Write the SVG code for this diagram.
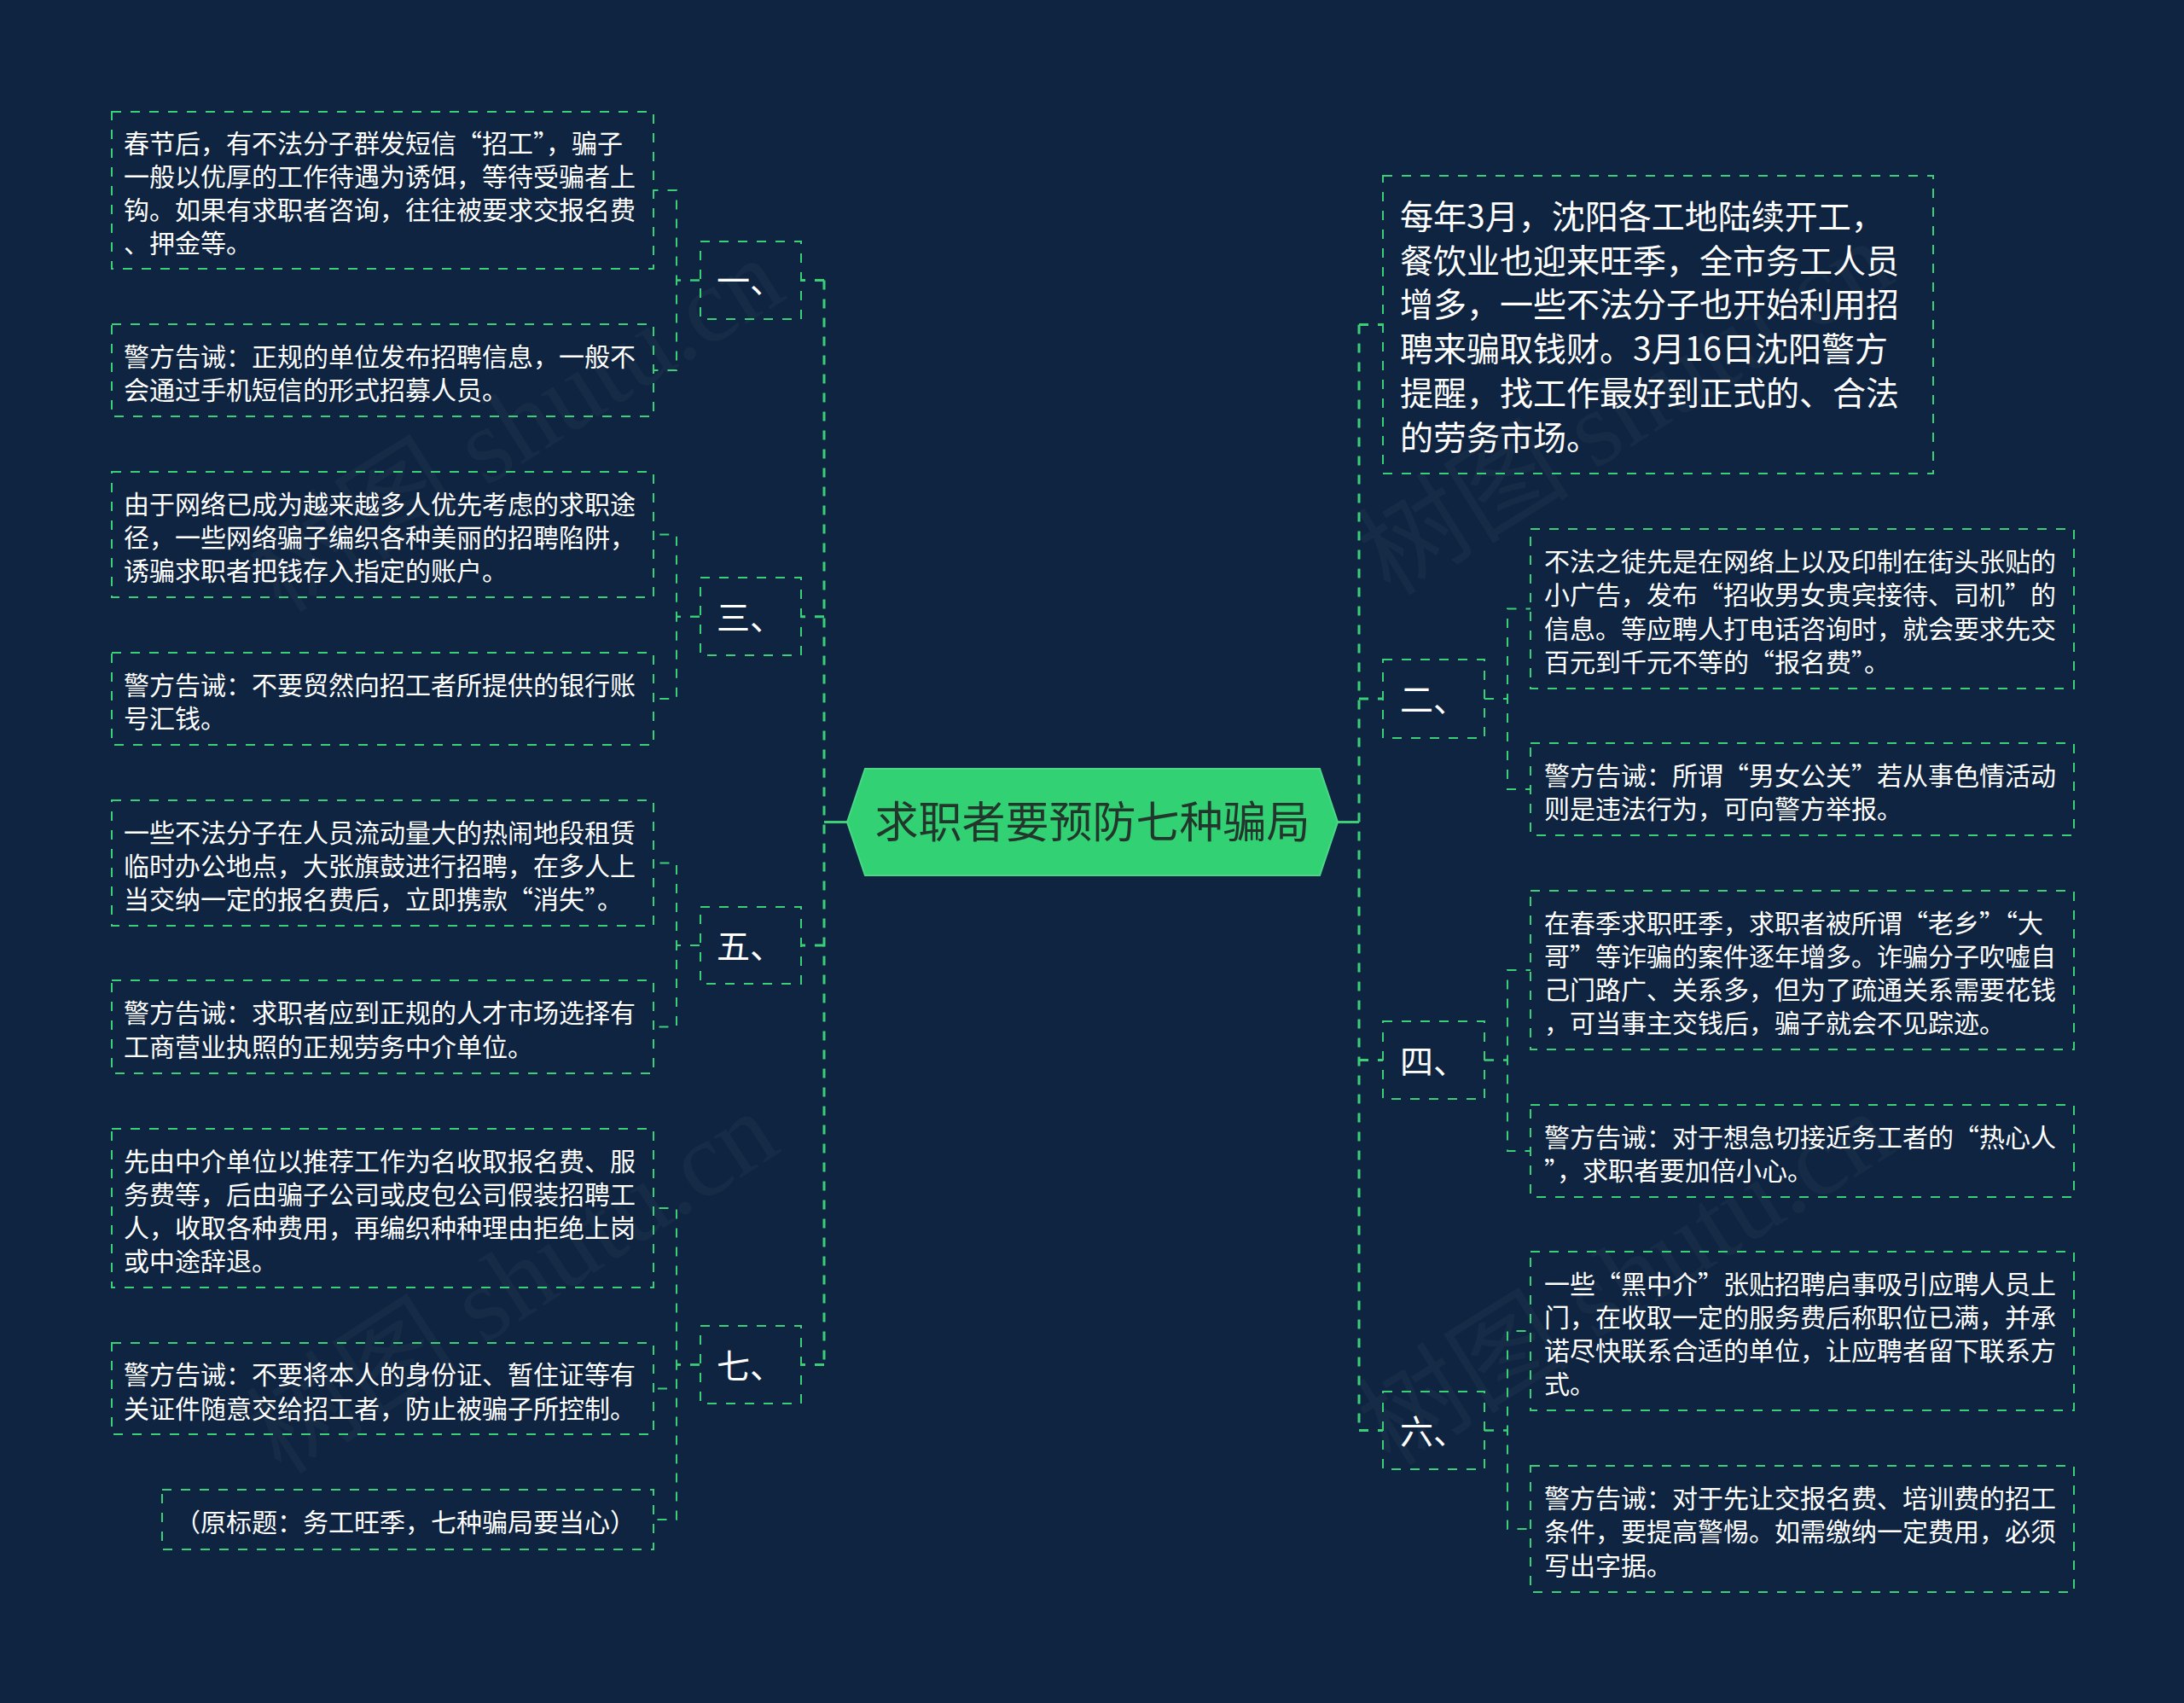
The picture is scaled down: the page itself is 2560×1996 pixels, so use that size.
<svg xmlns="http://www.w3.org/2000/svg" width="2560" height="1996" viewBox="0 0 2560 1996">
<style>
.bg{fill:#0e2440}
.box{fill:none;stroke:#3bd078;stroke-width:2;stroke-dasharray:11 11}
.t{font-family:"Noto Sans CJK SC","Noto Sans",sans-serif;fill:#ffffff;font-size:30px}
.tb{font-family:"Noto Sans CJK SC","Noto Sans",sans-serif;fill:#ffffff;font-size:39px}
.tc{font-family:"Noto Sans CJK SC","Noto Sans",sans-serif;fill:#22362c;font-size:51px}
.main{fill:none;stroke:#3bd078;stroke-width:3;stroke-dasharray:11 11}
.sub{fill:none;stroke:#3bd078;stroke-width:2;stroke-dasharray:11 11}
.solid{fill:none;stroke:#3bd078;stroke-width:3}
.wm{font-family:"Liberation Serif","Noto Sans CJK SC",serif;fill:#ffffff;fill-opacity:0.035;font-size:125px}
</style>
<rect class="bg" x="0" y="0" width="2560" height="1996"/>
<g id="watermarks">
<text class="wm" transform="translate(330,720) rotate(-32)">树图 shutu.cn</text>
<text class="wm" transform="translate(330,1730) rotate(-33)">树图 shutu.cn</text>
<text class="wm" transform="translate(1630,700) rotate(-32)">树图 shutu.cn</text>
<text class="wm" transform="translate(1630,1720) rotate(-32)">树图 shutu.cn</text>
</g>
<g id="connectors">
<path class="solid" d="M966,963.5 H993"/>
<path class="solid" d="M1568,963.5 H1593"/>
<path class="main" d="M966,328.5 V1599.5"/>
<path class="main" d="M966,328.5 H939 M966,722.75 H939 M966,1108 H939 M966,1599.5 H939"/>
<path class="main" d="M1593,380.5 V1676.5"/>
<path class="main" d="M1593,380.5 H1621 M1593,819 H1621 M1593,1242.5 H1621 M1593,1676.5 H1621"/>
<path class="sub" d="M820,328.5 H793 V223 H766"/>
<path class="sub" d="M820,328.5 H793 V434 H766"/>
<path class="sub" d="M820,722.75 H793 V626.5 H766"/>
<path class="sub" d="M820,722.75 H793 V819 H766"/>
<path class="sub" d="M820,1108 H793 V1011.5 H766"/>
<path class="sub" d="M820,1108 H793 V1203.5 H766"/>
<path class="sub" d="M820,1599.5 H793 V1416 H766"/>
<path class="sub" d="M820,1599.5 H793 V1627.5 H766"/>
<path class="sub" d="M820,1599.5 H793 V1781 H766"/>
<path class="sub" d="M1740,819 H1767 V713.5 H1794"/>
<path class="sub" d="M1740,819 H1767 V925 H1794"/>
<path class="sub" d="M1740,1242.5 H1767 V1137 H1794"/>
<path class="sub" d="M1740,1242.5 H1767 V1349 H1794"/>
<path class="sub" d="M1740,1676.5 H1767 V1560 H1794"/>
<path class="sub" d="M1740,1676.5 H1767 V1792 H1794"/>
</g>
<g id="center">
<polygon points="993,963.5 1014,901 1547,901 1568,963.5 1547,1026 1014,1026" fill="#32d174" stroke="#4ad886" stroke-width="2"/>
<text class="tc" x="1280.5" y="982" text-anchor="middle">求职者要预防七种骗局</text>
</g>
<g id="n1">
<rect class="box" x="821" y="283" width="118" height="91"/>
<text class="tb" x="840" y="343">一、</text>
</g>
<g id="n1a">
<rect class="box" x="131" y="131" width="635" height="184"/>
<text class="t" x="145" y="178.6"><tspan x="145">春节后，有不法分子群发短信“招工”，骗子</tspan><tspan x="145" dy="39.2">一般以优厚的工作待遇为诱饵，等待受骗者上</tspan><tspan x="145" dy="39.2">钩。如果有求职者咨询，往往被要求交报名费</tspan><tspan x="145" dy="39.2">、押金等。</tspan></text>
</g>
<g id="n1b">
<rect class="box" x="131" y="380" width="635" height="108"/>
<text class="t" x="145" y="428.8"><tspan x="145">警方告诫：正规的单位发布招聘信息，一般不</tspan><tspan x="145" dy="39.2">会通过手机短信的形式招募人员。</tspan></text>
</g>
<g id="n3">
<rect class="box" x="821" y="677" width="118" height="91"/>
<text class="tb" x="840" y="737.5">三、</text>
</g>
<g id="n3a">
<rect class="box" x="131" y="553" width="635" height="147"/>
<text class="t" x="145" y="601.7"><tspan x="145">由于网络已成为越来越多人优先考虑的求职途</tspan><tspan x="145" dy="39.2">径，一些网络骗子编织各种美丽的招聘陷阱，</tspan><tspan x="145" dy="39.2">诱骗求职者把钱存入指定的账户。</tspan></text>
</g>
<g id="n3b">
<rect class="box" x="131" y="765" width="635" height="108"/>
<text class="t" x="145" y="813.8"><tspan x="145">警方告诫：不要贸然向招工者所提供的银行账</tspan><tspan x="145" dy="39.2">号汇钱。</tspan></text>
</g>
<g id="n5">
<rect class="box" x="821" y="1063" width="118" height="90"/>
<text class="tb" x="840" y="1123">五、</text>
</g>
<g id="n5a">
<rect class="box" x="131" y="938" width="635" height="147"/>
<text class="t" x="145" y="986.7"><tspan x="145">一些不法分子在人员流动量大的热闹地段租赁</tspan><tspan x="145" dy="39.2">临时办公地点，大张旗鼓进行招聘，在多人上</tspan><tspan x="145" dy="39.2">当交纳一定的报名费后，立即携款“消失”。</tspan></text>
</g>
<g id="n5b">
<rect class="box" x="131" y="1149" width="635" height="109"/>
<text class="t" x="145" y="1198.3"><tspan x="145">警方告诫：求职者应到正规的人才市场选择有</tspan><tspan x="145" dy="39.2">工商营业执照的正规劳务中介单位。</tspan></text>
</g>
<g id="n7">
<rect class="box" x="821" y="1554" width="118" height="91"/>
<text class="tb" x="840" y="1614.5">七、</text>
</g>
<g id="n7a">
<rect class="box" x="131" y="1323" width="635" height="186"/>
<text class="t" x="145" y="1371.6"><tspan x="145">先由中介单位以推荐工作为名收取报名费、服</tspan><tspan x="145" dy="39.2">务费等，后由骗子公司或皮包公司假装招聘工</tspan><tspan x="145" dy="39.2">人，收取各种费用，再编织种种理由拒绝上岗</tspan><tspan x="145" dy="39.2">或中途辞退。</tspan></text>
</g>
<g id="n7b">
<rect class="box" x="131" y="1574" width="635" height="107"/>
<text class="t" x="145" y="1622.3"><tspan x="145">警方告诫：不要将本人的身份证、暂住证等有</tspan><tspan x="145" dy="39.2">关证件随意交给招工者，防止被骗子所控制。</tspan></text>
</g>
<g id="n7c">
<rect class="box" x="190" y="1746" width="576" height="70"/>
<text class="t" x="205" y="1795.4">（原标题：务工旺季，七种骗局要当心）</text>
</g>
<g id="r0">
<rect class="box" x="1621" y="206" width="645" height="349"/>
<text class="tb" x="1641" y="267.8"><tspan x="1641">每年3月，沈阳各工地陆续开工，</tspan><tspan x="1641" dy="51.8">餐饮业也迎来旺季，全市务工人员</tspan><tspan x="1641" dy="51.8">增多，一些不法分子也开始利用招</tspan><tspan x="1641" dy="51.8">聘来骗取钱财。3月16日沈阳警方</tspan><tspan x="1641" dy="51.8">提醒，找工作最好到正式的、合法</tspan><tspan x="1641" dy="51.8">的劳务市场。</tspan></text>
</g>
<g id="n2">
<rect class="box" x="1621" y="773" width="119" height="92"/>
<text class="tb" x="1641" y="834">二、</text>
</g>
<g id="n2a">
<rect class="box" x="1794" y="620" width="637" height="187"/>
<text class="t" x="1810" y="669.1"><tspan x="1810">不法之徒先是在网络上以及印制在街头张贴的</tspan><tspan x="1810" dy="39.2">小广告，发布“招收男女贵宾接待、司机”的</tspan><tspan x="1810" dy="39.2">信息。等应聘人打电话咨询时，就会要求先交</tspan><tspan x="1810" dy="39.2">百元到千元不等的“报名费”。</tspan></text>
</g>
<g id="n2b">
<rect class="box" x="1794" y="871" width="637" height="108"/>
<text class="t" x="1810" y="919.8"><tspan x="1810">警方告诫：所谓“男女公关”若从事色情活动</tspan><tspan x="1810" dy="39.2">则是违法行为，可向警方举报。</tspan></text>
</g>
<g id="n4">
<rect class="box" x="1621" y="1197" width="119" height="91"/>
<text class="tb" x="1641" y="1257.5">四、</text>
</g>
<g id="n4a">
<rect class="box" x="1794" y="1044" width="637" height="186"/>
<text class="t" x="1810" y="1092.6"><tspan x="1810">在春季求职旺季，求职者被所谓“老乡”“大</tspan><tspan x="1810" dy="39.2">哥”等诈骗的案件逐年增多。诈骗分子吹嘘自</tspan><tspan x="1810" dy="39.2">己门路广、关系多，但为了疏通关系需要花钱</tspan><tspan x="1810" dy="39.2">，可当事主交钱后，骗子就会不见踪迹。</tspan></text>
</g>
<g id="n4b">
<rect class="box" x="1794" y="1295" width="637" height="108"/>
<text class="t" x="1810" y="1343.8"><tspan x="1810">警方告诫：对于想急切接近务工者的“热心人</tspan><tspan x="1810" dy="39.2">”，求职者要加倍小心。</tspan></text>
</g>
<g id="n6">
<rect class="box" x="1621" y="1631" width="119" height="91"/>
<text class="tb" x="1641" y="1691.5">六、</text>
</g>
<g id="n6a">
<rect class="box" x="1794" y="1467" width="637" height="186"/>
<text class="t" x="1810" y="1515.6"><tspan x="1810">一些“黑中介”张贴招聘启事吸引应聘人员上</tspan><tspan x="1810" dy="39.2">门，在收取一定的服务费后称职位已满，并承</tspan><tspan x="1810" dy="39.2">诺尽快联系合适的单位，让应聘者留下联系方</tspan><tspan x="1810" dy="39.2">式。</tspan></text>
</g>
<g id="n6b">
<rect class="box" x="1794" y="1718" width="637" height="148"/>
<text class="t" x="1810" y="1767.2"><tspan x="1810">警方告诫：对于先让交报名费、培训费的招工</tspan><tspan x="1810" dy="39.2">条件，要提高警惕。如需缴纳一定费用，必须</tspan><tspan x="1810" dy="39.2">写出字据。</tspan></text>
</g>
</svg>
